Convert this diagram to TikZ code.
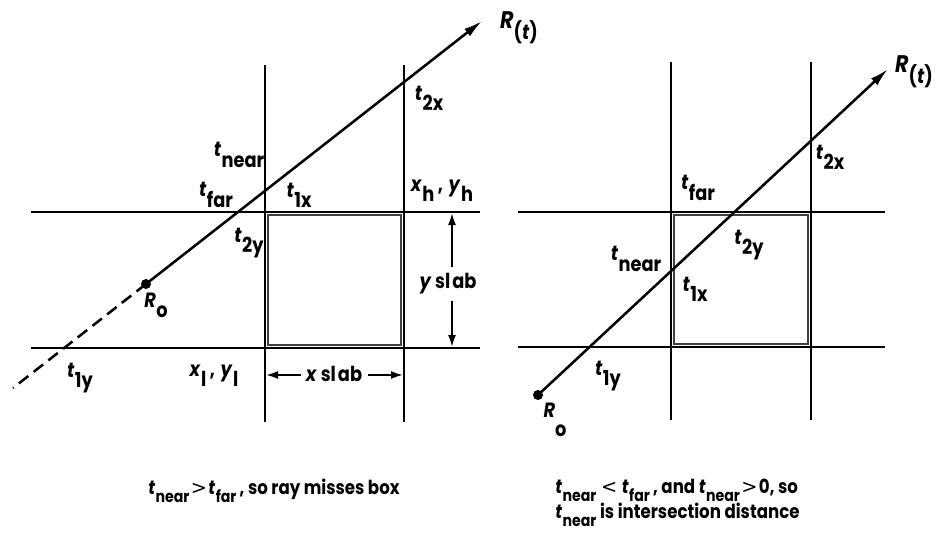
\documentclass[tikz,border=0pt]{standalone}
\usepackage{fontspec}
\setmainfont{Poppins}[FakeStretch=0.86]
\newfontfamily\symf{DejaVu Sans}
\usetikzlibrary{arrows.meta}
\newcommand{\ts}[2]{\textit{#1}\kern0.3pt\raisebox{-0.5em}{#2}}
\newcommand{\cs}[2]{\textit{#1}\kern0.3pt\raisebox{-0.45em}{\scalebox{0.85}{#2}}}
\newcommand{\rel}[1]{\kern1pt{\symf\mdseries #1}\kern1pt}
\tikzset{
  grid/.style={line width=1.9pt},
  boxin/.style={line width=1.4pt, draw=black!75},
  ray/.style={line width=1.9pt, -{Latex[length=14pt,width=7pt]}},
  dimarr/.style={line width=1.5pt, -{Latex[length=9pt,width=6pt]}},
  dot/.style={circle, fill=black, inner sep=0pt, minimum size=7.5pt},
  lab/.style={inner sep=0pt, font=\fontsize{15.5}{18}\selectfont\bfseries},
  captxt/.style={inner sep=0pt, font=\fontsize{14.5}{18}\selectfont\bfseries}
}
\begin{document}
\begin{tikzpicture}[x=0.75pt,y=-0.75pt]
\useasboundingbox (0,0) rectangle (936,546);
% ---------- left diagram ----------
\coordinate (v1t) at (265,65); \coordinate (v1b) at (265,422);
\coordinate (v2t) at (404,65); \coordinate (v2b) at (404,422);
\coordinate (h1l) at (31,212); \coordinate (h1r) at (480,212);
\coordinate (h2l) at (31,348); \coordinate (h2r) at (480,348);
\draw[grid] (v1t) -- (v1b);
\draw[grid] (v2t) -- (v2b);
\draw[grid] (h1l) -- (h1r);
\draw[grid] (h2l) -- (h2r);
\draw[boxin] (268,215) rectangle (401,345);
\node[dot] (ro1) at (146,284) {};
\coordinate (tip1) at (482,21);
\coordinate (tail1) at (13,388);
\draw[ray] (ro1.center) -- (tip1);
\draw[line width=1.9pt, dash pattern=on 9pt off 5pt] (ro1.center) -- (tail1);
\node[lab] (Rt1) at (519,28) {{\fontsize{18}{18}\selectfont\textit{R}}\raisebox{-0.55em}{(\textit{t})}};
\node[lab] (tnear1) at (239,155) {\ts{t}{near}};
\node[lab] (tfar1) at (216,195) {\ts{t}{far}};
\node[lab] (t1x1) at (299,195) {\ts{t}{1x}};
\node[lab] (t2x1) at (429,98) {\ts{t}{2x}};
\node[lab] (t2y1) at (249,243) {\ts{t}{2y}};
\node[lab] (Ro1) at (156,305) {\ts{R}{o}};
\node[lab] (xh) at (442,191) {\ts{x}{h}\,,\;\ts{y}{h}};
\node[lab] (xl) at (214,376) {\ts{x}{l}\,,\;\ts{y}{l}};
\node[lab] (t1y1) at (80,378) {\ts{t}{1y}};
\node[lab] (yslab) at (448,284) {\textit{y}\,sl\kern1.5pt ab};
\node[lab] (xslab) at (334,374) {\textit{x} sl\kern1.5pt ab};
\coordinate (ya) at (452,213); \coordinate (yb) at (452,347);
\coordinate (xa) at (266,375); \coordinate (xb) at (403,375);
\draw[dimarr] (yslab.north -| ya) ++(0,-6) -- (ya);
\draw[dimarr] (yslab.south -| yb) ++(0,6) -- (yb);
\draw[dimarr] (xslab.west |- xa) ++(-5,0) -- (xa);
\draw[dimarr] (xslab.east |- xb) ++(6,0) -- (xb);
% ---------- right diagram ----------
\coordinate (w1t) at (671,62); \coordinate (w1b) at (671,420);
\coordinate (w2t) at (811,62); \coordinate (w2b) at (811,420);
\coordinate (k1l) at (518,212); \coordinate (k1r) at (885,212);
\coordinate (k2l) at (518,347); \coordinate (k2r) at (885,347);
\draw[grid] (w1t) -- (w1b);
\draw[grid] (w2t) -- (w2b);
\draw[grid] (k1l) -- (k1r);
\draw[grid] (k2l) -- (k2r);
\draw[boxin] (674,215) rectangle (808,344);
\node[dot] (ro2) at (538,395) {};
\coordinate (tip2) at (888,69);
\draw[ray] (ro2.center) -- (tip2);
\node[lab] (Rt2) at (914,72) {{\fontsize{18}{18}\selectfont\textit{R}}\raisebox{-0.55em}{(\textit{t})}};
\node[lab] (tfar2) at (698,188) {\ts{t}{far}};
\node[lab] (t2x2) at (830,157) {\ts{t}{2x}};
\node[lab] (t2y2) at (749,245) {\ts{t}{2y}};
\node[lab] (tnear2) at (636,259) {\ts{t}{near}};
\node[lab] (t1x2) at (695,289) {\ts{t}{1x}};
\node[lab] (t1y2) at (608,376) {\ts{t}{1y}};
\node[lab] (Ro2) at (555,420) {\textit{R}\raisebox{-0.9em}{o}};
% ---------- captions ----------
\node[captxt, anchor=base west] (cap1) at (148,494) {\cs{t}{near}\rel{>}\cs{t}{far}\,, so ray misses box};
\node[captxt, anchor=base west] (cap2a) at (555,493) {\cs{t}{near}\,\rel{<}\,\cs{t}{far}\,, and \cs{t}{near}\rel{>}0, so};
\node[captxt, anchor=base west] (cap2b) at (555,518) {\cs{t}{near} is intersection distance};
\end{tikzpicture}
\end{document}
